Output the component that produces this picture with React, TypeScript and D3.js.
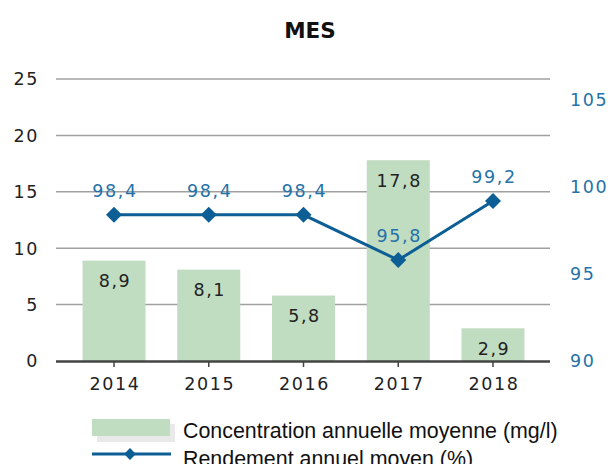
import React from "react";
import * as d3 from "d3";

const years = ["2014", "2015", "2016", "2017", "2018"];
const concentration = [8.9, 8.1, 5.8, 17.8, 2.9];
const rendement = [98.4, 98.4, 98.4, 95.8, 99.2];
const leftTicks = [0, 5, 10, 15, 20, 25];
const rightTicks = [90, 95, 100, 105];
const title = "MES";
const legendBar = "Concentration annuelle moyenne (mg/l)";
const legendLine = "Rendement annuel moyen (%)";

const fmt = (v: number) => v.toFixed(1).replace(".", ",");

export default function App() {
  const W = 610, H = 464;
  const plotL = 56, plotR = 550;
  const x = d3.scaleBand<string>().domain(years).range([66.65, 540.35]).paddingInner(0.335).paddingOuter(0.1675);
  const yL = d3.scaleLinear().domain([0, 25]).range([361, 79]);
  const yR = d3.scaleLinear().domain([90, 105]).range([361, 100]);
  const bw = x.bandwidth();
  const cx = (y: string) => (x(y) as number) + bw / 2;
  const line = d3.line<number>().x((_, i) => cx(years[i])).y((d) => yR(d));
  const diamond = d3.symbol(d3.symbolSquare, 128)() as string;
  const diamondSmall = d3.symbol(d3.symbolSquare, 70)() as string;
  const lineColor = "#0c5e95";
  const blue = "#2572a8";
  const tickFont = { fontFamily: "DejaVu Sans, Verdana, sans-serif", fontSize: 17.5, letterSpacing: 1.6 } as const;

  return (
    <svg width={W} height={H} style={{ position: "absolute", left: 0, top: 0, background: "#fff" }}>
      <text x={310} y={38} textAnchor="middle" fontFamily="DejaVu Sans, Verdana, sans-serif" fontWeight="bold" fontSize={21.5} fill="#111">{title}</text>
      {leftTicks.filter((t) => t !== 0).map((t) => (
        <line key={t} x1={plotL} x2={plotR} y1={yL(t)} y2={yL(t)} stroke="#a0a0a0" strokeWidth={1.5} />
      ))}
      {leftTicks.map((t) => (
        <text key={t} x={39} y={yL(t)} dy="0.36em" textAnchor="end" fill="#222" {...tickFont}>{t}</text>
      ))}
      {rightTicks.map((t) => (
        <text key={t} x={570} y={yR(t)} dy="0.36em" textAnchor="start" fill={blue} {...tickFont}>{t}</text>
      ))}
      {concentration.map((v, i) => (
        <rect key={i} x={x(years[i])} y={yL(v)} width={bw} height={yL(0) - yL(v)} fill="#c0dcc1" />
      ))}
      <line x1={plotL} x2={plotR} y1={361.5} y2={361.5} stroke="#444" strokeWidth={2.5} />
      {years.map((y) => (
        <g key={y}>
          <line x1={cx(y)} x2={cx(y)} y1={361} y2={367} stroke="#444" strokeWidth={1.5} />
          <text x={cx(y) + 1} y={390} textAnchor="middle" fill="#222" {...tickFont}>{y}</text>
        </g>
      ))}
      {concentration.map((v, i) => (
        <text key={i} x={cx(years[i]) + 1} y={yL(v) + 20} dy="0.36em" textAnchor="middle" fill="#222" {...tickFont}>{fmt(v)}</text>
      ))}
      <path d={line(rendement) as string} fill="none" stroke={lineColor} strokeWidth={3} />
      {rendement.map((v, i) => (
        <path key={i} d={diamond} transform={`translate(${cx(years[i])},${yR(v)}) rotate(45)`} fill={lineColor} />
      ))}
      {rendement.map((v, i) => (
        <text key={i} x={cx(years[i]) + 1} y={yR(v) - 24} dy="0.36em" textAnchor="middle" fill={blue} {...tickFont}>{fmt(v)}</text>
      ))}
      <rect x={97} y={424} width={78} height={18} fill="#e9e9e9" />
      <rect x={92} y={419} width={78} height={17} fill="#c0dcc1" />
      <text x={183} y={437.5} fontFamily="Liberation Sans, Arial, sans-serif" fontSize={21.4} fill="#111">{legendBar}</text>
      <line x1={92} x2={171} y1={454} y2={454} stroke={lineColor} strokeWidth={3} />
      <path d={diamondSmall} transform="translate(130,454) rotate(45)" fill={lineColor} />
      <text x={183} y={466} fontFamily="Liberation Sans, Arial, sans-serif" fontSize={21.4} fill="#111">{legendLine}</text>
    </svg>
  );
}
